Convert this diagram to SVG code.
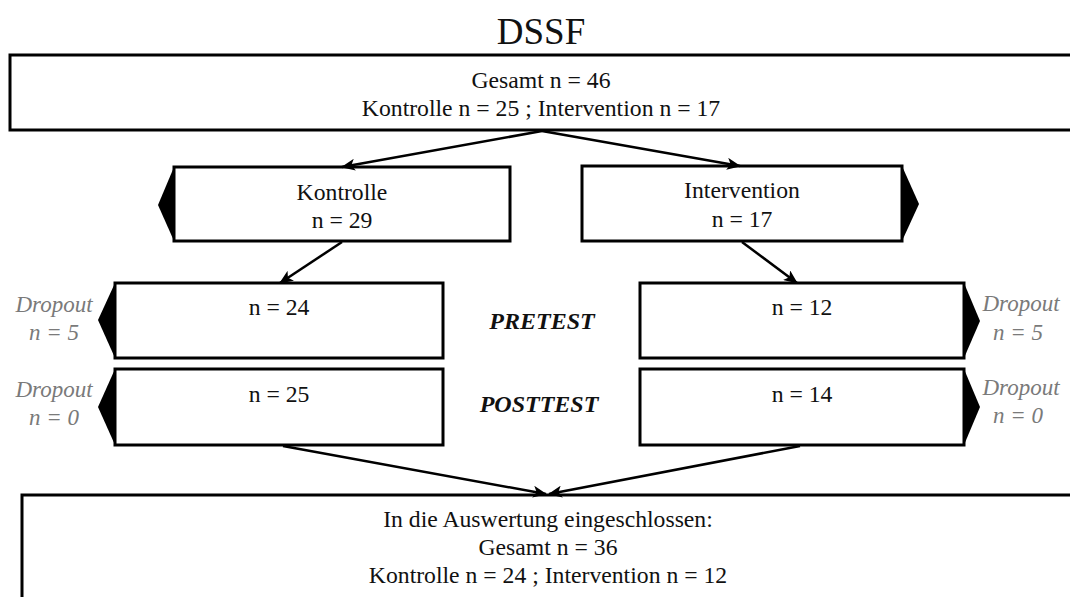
<svg xmlns="http://www.w3.org/2000/svg" width="1070" height="597" viewBox="0 0 1070 597">
  <style>
    .box { fill: #ffffff; stroke: #000000; stroke-width: 3; }
    .tab { fill: #000000; stroke: none; }
    .t { font-family: 'Liberation Serif', 'Times New Roman', 'DejaVu Serif', serif; font-size: 23.7px; fill: #111111; text-anchor: middle; }
    .title { font-size: 37px; }
    .phase { font-weight: bold; font-style: italic; font-size: 24px; }
    .drop { font-style: italic; font-size: 23px; fill: #7a7a7a; }
    .link { stroke: #000000; stroke-width: 2.5; fill: none; marker-end: url(#head); }
  </style>
  <defs>
    <marker id="head" markerUnits="userSpaceOnUse" markerWidth="14" markerHeight="12" refX="13" refY="6" orient="auto">
      <path d="M0,0 L14,6 L0,12 L3.5,6 z" fill="#000000"/>
    </marker>
  </defs>

  <rect width="1070" height="597" fill="#ffffff"/>

  <g font-family="Liberation Serif, serif">
  <text class="t title" x="541" y="44">DSSF</text>

  <!-- overall sample -->
  <g id="total">
    <rect class="box" x="10" y="55" width="1080" height="75"/>
    <text class="t" x="541" y="88">Gesamt n = 46</text>
    <text class="t" x="541" y="116">Kontrolle n = 25 ; Intervention n = 17</text>
  </g>

  <!-- group allocation -->
  <g id="kontrolle">
    <path class="tab" d="M174,167 L158,205 L174,241 z"/>
    <rect class="box" x="174" y="167" width="336" height="74"/>
    <text class="t" x="342" y="200">Kontrolle</text>
    <text class="t" x="342" y="228">n = 29</text>
  </g>
  <g id="intervention">
    <path class="tab" d="M902,166 L919,204 L902,241 z"/>
    <rect class="box" x="582" y="166" width="320" height="75"/>
    <text class="t" x="742" y="198">Intervention</text>
    <text class="t" x="742" y="227">n = 17</text>
  </g>

  <!-- pretest -->
  <g id="pre-kontrolle">
    <path class="tab" d="M115,283 L98,320 L115,358 z"/>
    <rect class="box" x="115" y="283" width="328" height="75"/>
    <text class="t" x="279" y="315">n = 24</text>
  </g>
  <g id="pre-dropout-kontrolle">
    <text class="t drop" x="54" y="312">Dropout</text>
    <text class="t drop" x="54" y="340">n = 5</text>
  </g>
  <g id="pre-intervention">
    <path class="tab" d="M964,283 L980,321 L964,358 z"/>
    <rect class="box" x="640" y="283" width="324" height="75"/>
    <text class="t" x="802" y="315">n = 12</text>
  </g>
  <g id="pre-dropout-intervention">
    <text class="t drop" x="1021" y="311">Dropout</text>
    <text class="t drop" x="1018" y="340">n = 5</text>
  </g>
  <g id="pretest-label">
    <text class="t phase" x="542" y="329">PRETEST</text>
  </g>

  <!-- posttest -->
  <g id="post-kontrolle">
    <path class="tab" d="M115,369 L98,407 L115,445 z"/>
    <rect class="box" x="115" y="369" width="328" height="76"/>
    <text class="t" x="279" y="402">n = 25</text>
  </g>
  <g id="post-dropout-kontrolle">
    <text class="t drop" x="54" y="397">Dropout</text>
    <text class="t drop" x="54" y="425">n = 0</text>
  </g>
  <g id="post-intervention">
    <path class="tab" d="M964,369 L980,407 L964,445 z"/>
    <rect class="box" x="640" y="369" width="324" height="76"/>
    <text class="t" x="802" y="402">n = 14</text>
  </g>
  <g id="post-dropout-intervention">
    <text class="t drop" x="1021" y="395">Dropout</text>
    <text class="t drop" x="1018" y="423">n = 0</text>
  </g>
  <g id="posttest-label">
    <text class="t phase" x="539" y="412">POSTTEST</text>
  </g>

  <!-- analysed sample -->
  <g id="auswertung">
    <rect class="box" x="22" y="495" width="1070" height="120"/>
    <text class="t" x="548" y="527">In die Auswertung eingeschlossen:</text>
    <text class="t" x="548" y="555">Gesamt n = 36</text>
    <text class="t" x="548" y="583">Kontrolle n = 24 ; Intervention n = 12</text>
  </g>
  </g>

  <!-- connectors -->
  <g id="connectors">
    <line class="link" x1="542" y1="131" x2="342" y2="167"/>
    <line class="link" x1="542" y1="131" x2="740" y2="166"/>
    <line class="link" x1="342" y1="242" x2="280" y2="283"/>
    <line class="link" x1="742" y1="242" x2="797" y2="283"/>
    <line class="link" x1="283" y1="446" x2="546" y2="494"/>
    <line class="link" x1="800" y1="446" x2="549" y2="494"/>
  </g>
</svg>
